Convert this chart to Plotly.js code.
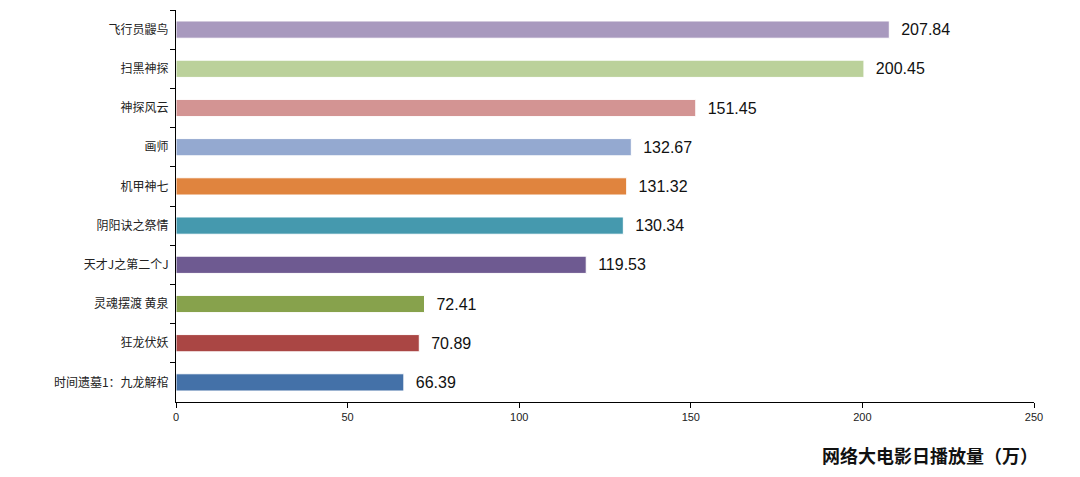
<!DOCTYPE html>
<html>
<head>
<meta charset="utf-8">
<script src="https://cdn.plot.ly/plotly-3.0.1.min.js"></script>
<style>
  html, body { margin: 0; padding: 0; background: #fff; }
  #chart { width: 1080px; height: 477px; }
</style>
</head>
<body>
<div id="chart"></div>
<script>
// films, top to bottom as shown
const films = ['飞行员鼹鸟', '扫黑神探', '神探风云', '画师', '机甲神七', '阴阳诀之祭情', '天才J之第二个J', '灵魂摆渡 黄泉', '狂龙伏妖', '时间遗墓1：九龙解棺'];
const dailyViews = [207.84, 200.45, 151.45, 132.67, 131.32, 130.34, 119.53, 72.41, 70.89, 66.39];
const barColors = ['#A899BE', '#BBD19B', '#D39493', '#94A9D0', '#E0843E', '#4599AE', '#6E5A91', '#87A24C', '#AA4644', '#4471A8'];
const xTicks = [0, 50, 100, 150, 200, 250];

const trace = {
    type: 'bar',
    orientation: 'h',
    x: dailyViews,
    y: films,
    marker: {color: barColors, line: {color: '#ffffff', width: 1}},
    text: dailyViews.map(v => '\u00a0\u00a0' + v.toFixed(2)),
    textposition: 'outside',
    cliponaxis: false,
    textfont: {family: 'Liberation Sans, Arial, sans-serif', size: 16, color: '#111'},
    hoverinfo: 'x+y'
};

const layout = {
    width: 1080,
    height: 477,
    margin: {l: 176, r: 46, t: 10, b: 75},
    paper_bgcolor: '#fff',
    plot_bgcolor: '#fff',
    bargap: 0.56,
    showlegend: false,
    xaxis: {
        range: [0, 250],
        tickvals: xTicks,
        ticks: 'outside',
        ticklen: 5,
        tickcolor: '#000',
        showline: true,
        linecolor: '#000',
        linewidth: 1,
        showgrid: false,
        zeroline: false,
        tickfont: {family: 'Liberation Sans, Arial, sans-serif', size: 11, color: '#222'}
    },
    yaxis: {
        autorange: 'reversed',
        type: 'category',
        ticks: 'outside',
        tickson: 'boundaries',
        ticklen: 5,
        tickcolor: '#000',
        ticklabelstandoff: 4,
        showline: true,
        linecolor: '#000',
        linewidth: 1,
        showgrid: false,
        zeroline: false,
        tickfont: {family: 'Noto Sans CJK SC, sans-serif', size: 12, color: '#222'}
    },
    annotations: [{
        text: '<b>网络大电影日播放量（万）</b>',
        xref: 'paper', yref: 'paper',
        x: 1.0, y: 0,
        xanchor: 'right', yanchor: 'middle',
        xshift: 6,
        yshift: -53,
        showarrow: false,
        font: {family: 'Noto Sans CJK SC, sans-serif', size: 18, color: '#111'}
    }]
};

Plotly.newPlot('chart', [trace], layout, {displayModeBar: false});
</script>
</body>
</html>
